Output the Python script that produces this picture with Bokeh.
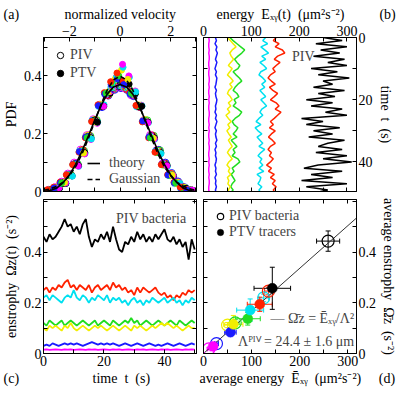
from bokeh.plotting import figure
from bokeh.layouts import gridplot
from bokeh.models import (Range1d, FixedTicker, CustomJSTickFormatter, LinearAxis,
                          Legend, LegendItem, Label, Whisker, TeeHead, ColumnDataSource)
from bokeh.embed import file_html
from bokeh.resources import INLINE

# ---------------- data ----------------
series_names = ["magenta", "blue", "yellow", "green", "cyan", "red", "black"]
series_colors = ["#ff00ff", "#1a1aff", "#f2ee00", "#22dd22", "#00e0f0", "#ff2200", "#000000"]

# (a) velocity PDFs (each data set has its own bin centres)
vel_bins = [-2.75, -2.5, -2.25, -2.0, -1.75, -1.5, -1.25, -1.0, -0.75, -0.5, -0.25, 0.0,
            0.25, 0.5, 0.75, 1.0, 1.25, 1.5, 1.75, 2.0, 2.25, 2.5, 2.75]
piv_bin_shift = [-0.06, 0.04, -0.02, 0.08, -0.09, 0.02, 0.0]
ptv_bin_shift = [0.10, -0.10, 0.06, -0.05, 0.12, -0.12, 0.11]
piv_magenta = [0.006,0.015,0.034,0.062,0.100,0.145,0.195,0.250,0.300,0.335,0.355,0.360,0.356,0.333,0.296,0.247,0.196,0.143,0.098,0.060,0.033,0.014,0.006]
piv_blue    = [0.004,0.012,0.031,0.058,0.096,0.142,0.190,0.243,0.292,0.332,0.352,0.358,0.351,0.330,0.292,0.242,0.191,0.144,0.100,0.064,0.035,0.015,0.005]
piv_yellow  = [0.003,0.010,0.028,0.055,0.093,0.140,0.193,0.248,0.300,0.340,0.363,0.371,0.362,0.339,0.298,0.248,0.194,0.141,0.093,0.056,0.029,0.011,0.003]
piv_green   = [0.004,0.011,0.029,0.056,0.095,0.141,0.192,0.247,0.298,0.338,0.360,0.366,0.360,0.337,0.297,0.246,0.193,0.142,0.095,0.057,0.030,0.012,0.004]
piv_cyan    = [0.003,0.011,0.029,0.057,0.094,0.139,0.190,0.245,0.296,0.337,0.361,0.368,0.361,0.336,0.295,0.244,0.190,0.139,0.094,0.057,0.029,0.011,0.003]
piv_red     = [0.005,0.014,0.033,0.060,0.098,0.144,0.194,0.246,0.294,0.333,0.354,0.360,0.354,0.332,0.293,0.245,0.194,0.144,0.098,0.061,0.033,0.014,0.005]
piv_black   = [0.004,0.012,0.030,0.057,0.095,0.141,0.192,0.246,0.296,0.336,0.358,0.364,0.358,0.335,0.295,0.245,0.192,0.141,0.095,0.057,0.030,0.012,0.004]

ptv_magenta = [0.005,0.013,0.029,0.054,0.088,0.130,0.180,0.236,0.295,0.345,0.395,0.440,0.400,0.348,0.298,0.238,0.182,0.131,0.089,0.055,0.030,0.013,0.005]
ptv_blue    = [0.004,0.012,0.030,0.057,0.094,0.138,0.188,0.244,0.297,0.338,0.370,0.390,0.370,0.338,0.297,0.244,0.188,0.138,0.094,0.057,0.030,0.012,0.004]
ptv_yellow  = [0.005,0.014,0.031,0.056,0.090,0.133,0.184,0.240,0.298,0.346,0.390,0.420,0.388,0.344,0.296,0.240,0.184,0.133,0.090,0.056,0.031,0.014,0.005]
ptv_green   = [0.005,0.013,0.030,0.056,0.092,0.135,0.186,0.243,0.298,0.340,0.375,0.400,0.376,0.340,0.297,0.243,0.186,0.135,0.092,0.056,0.030,0.013,0.005]
ptv_cyan    = [0.004,0.012,0.028,0.053,0.087,0.131,0.182,0.240,0.300,0.350,0.398,0.430,0.395,0.345,0.296,0.238,0.181,0.131,0.087,0.053,0.028,0.012,0.004]
ptv_red     = [0.006,0.015,0.032,0.058,0.093,0.136,0.186,0.242,0.300,0.342,0.380,0.410,0.382,0.343,0.298,0.241,0.186,0.136,0.093,0.058,0.032,0.015,0.006]
ptv_black   = [0.004,0.011,0.028,0.054,0.090,0.134,0.185,0.240,0.295,0.340,0.372,0.382,0.372,0.340,0.295,0.240,0.185,0.134,0.090,0.054,0.028,0.011,0.004]

curve_v = [-3.0, -2.75, -2.5, -2.25, -2.0, -1.75, -1.5, -1.25, -1.0, -0.75, -0.5, -0.25, 0.0,
           0.25, 0.5, 0.75, 1.0, 1.25, 1.5, 1.75, 2.0, 2.25, 2.5, 2.75, 3.0]
curve_theory = [0.0,0.003,0.012,0.030,0.057,0.094,0.140,0.192,0.246,0.297,0.338,0.362,0.370,
                0.362,0.338,0.297,0.246,0.192,0.140,0.094,0.057,0.030,0.012,0.003,0.0]
curve_gauss = [0.004,0.009,0.018,0.032,0.054,0.086,0.130,0.183,0.242,0.301,0.352,0.387,0.399,
               0.387,0.352,0.301,0.242,0.183,0.130,0.086,0.054,0.032,0.018,0.009,0.004]

# (b) PIV energy time series, one sample per second
time_s = list(range(0, 51))
en_magenta = [11,12,11,11,12,11,12,12,11,11,12,11,11,12,12,11,12,11,11,12,11,12,11,11,12,12,11,11,12,11,12,11,11,12,11,12,12,11,11,12,11,12,11,11,12,11,12,12,11,11,12]
en_blue    = [25,27,24,28,26,29,27,25,28,26,24,27,25,28,27,26,24,27,25,26,28,27,25,26,24,27,25,28,26,24,27,25,26,28,25,27,24,26,25,27,26,24,26,25,27,24,26,25,27,25,26]
en_yellow  = [50,56,62,68,60,55,58,63,57,52,60,55,50,57,62,55,60,53,50,56,60,52,57,50,55,47,52,58,51,55,49,53,58,52,56,60,54,50,55,60,53,49,55,52,57,50,53,51,56,52,54]
en_green   = [55,62,70,78,86,80,72,65,70,76,72,62,68,75,80,72,66,62,70,74,64,68,62,72,80,75,66,60,64,72,68,62,70,58,64,70,62,66,60,72,76,68,60,64,58,62,66,60,57,62,56]
en_cyan    = [130,124,134,120,128,136,122,130,118,126,132,120,116,124,130,122,128,118,124,130,120,126,132,122,118,124,116,110,120,108,114,122,112,118,124,116,128,120,114,122,118,124,116,126,112,120,118,114,122,116,120]
en_red     = [152,146,158,150,165,170,155,148,160,152,145,150,140,135,142,150,138,145,155,148,140,152,158,150,162,155,148,140,146,138,150,142,136,144,150,140,135,142,138,146,140,132,142,136,148,140,150,144,152,146,150]
en_black   = [250,290,235,300,245,285,230,295,260,300,225,280,240,305,250,270,230,295,240,275,215,270,225,290,255,300,205,250,215,285,230,270,220,295,260,240,290,235,300,250,310,240,210,290,225,270,205,300,215,260,230]

# (c) PIV enstrophy time series
ens_magenta = [0.015,0.016,0.014,0.015,0.016,0.015,0.014,0.016,0.015,0.016,0.014,0.015,0.016,0.015,0.014,0.016,0.015,0.016,0.014,0.015,0.016,0.015,0.014,0.016,0.015,0.016,0.014,0.015,0.016,0.015,0.014,0.016,0.015,0.016,0.014,0.015,0.016,0.015,0.014,0.016,0.015,0.016,0.014,0.015,0.016,0.015,0.014,0.016,0.015,0.016,0.015]
ens_blue    = [0.030,0.035,0.030,0.040,0.035,0.030,0.035,0.040,0.035,0.040,0.035,0.040,0.035,0.030,0.035,0.040,0.045,0.040,0.035,0.040,0.035,0.040,0.035,0.040,0.035,0.030,0.035,0.040,0.035,0.030,0.035,0.040,0.035,0.030,0.035,0.040,0.035,0.030,0.035,0.030,0.035,0.040,0.035,0.030,0.035,0.040,0.035,0.030,0.035,0.040,0.035]
ens_yellow  = [0.10,0.09,0.11,0.10,0.11,0.10,0.09,0.11,0.10,0.12,0.10,0.09,0.10,0.11,0.10,0.09,0.10,0.11,0.10,0.11,0.10,0.09,0.10,0.11,0.10,0.09,0.10,0.11,0.10,0.09,0.11,0.10,0.11,0.10,0.09,0.10,0.11,0.10,0.11,0.12,0.11,0.12,0.11,0.10,0.11,0.10,0.09,0.10,0.11,0.10,0.10]
ens_green   = [0.12,0.11,0.13,0.12,0.11,0.12,0.13,0.11,0.12,0.13,0.12,0.11,0.12,0.13,0.12,0.11,0.12,0.13,0.11,0.12,0.13,0.12,0.11,0.13,0.12,0.11,0.12,0.13,0.12,0.14,0.12,0.13,0.11,0.12,0.13,0.12,0.11,0.12,0.13,0.12,0.11,0.12,0.13,0.12,0.11,0.13,0.12,0.11,0.12,0.13,0.12]
ens_cyan    = [0.22,0.23,0.21,0.23,0.22,0.21,0.20,0.22,0.23,0.22,0.25,0.22,0.21,0.23,0.22,0.20,0.22,0.21,0.23,0.22,0.21,0.23,0.20,0.22,0.21,0.22,0.20,0.21,0.19,0.21,0.22,0.20,0.21,0.19,0.21,0.20,0.22,0.21,0.20,0.21,0.22,0.20,0.21,0.22,0.20,0.21,0.19,0.21,0.20,0.22,0.21]
ens_red     = [0.25,0.26,0.24,0.26,0.25,0.27,0.26,0.28,0.29,0.26,0.27,0.25,0.27,0.26,0.25,0.27,0.24,0.26,0.27,0.25,0.26,0.27,0.25,0.28,0.26,0.27,0.25,0.26,0.24,0.25,0.23,0.26,0.24,0.26,0.25,0.24,0.25,0.26,0.24,0.23,0.24,0.22,0.23,0.21,0.23,0.22,0.24,0.23,0.25,0.24,0.25]
ens_black   = [0.46,0.44,0.47,0.45,0.46,0.48,0.50,0.53,0.50,0.51,0.48,0.50,0.47,0.51,0.53,0.46,0.42,0.45,0.44,0.47,0.45,0.48,0.44,0.50,0.45,0.41,0.40,0.44,0.43,0.46,0.44,0.48,0.45,0.47,0.44,0.46,0.44,0.47,0.45,0.47,0.49,0.45,0.44,0.46,0.43,0.45,0.42,0.44,0.37,0.45,0.41]

# (d) averages with error bars (order: magenta, blue, yellow, green, cyan, red, black)
avg_E_piv   = [11, 27, 50, 66, 125, 135, 259]
avg_Om_piv  = [0.018, 0.039, 0.112, 0.121, 0.219, 0.246, 0.443]
err_E_piv   = [3, 4, 6, 8, 10, 8, 24]
err_Om_piv  = [0.004, 0.006, 0.010, 0.012, 0.015, 0.015, 0.040]
avg_E_ptv   = [20, 56, 62, 92, 97, 117, 143]
avg_Om_ptv  = [0.028, 0.084, 0.115, 0.137, 0.171, 0.194, 0.257]
err_E_ptv   = [5, 12, 20, 26, 28, 26, 38]
err_Om_ptv  = [0.008, 0.015, 0.035, 0.025, 0.044, 0.028, 0.083]
fit_Lambda = 24.4
fit_E = [0, 340]

# ---------------- layout ----------------
FONT = "Liberation Serif"
FS = "14px"
NB = "\u00a0"
FW, FH = 156, 154
TOP, BOT = 37, 37
WL, WR = 40 + FW + 3, 4 + FW + 40
HT, HB = TOP + FH + 7, 1 + FH + BOT

xr_a, yr_a = (-3.02, 3.02), (0.0, 0.533)
xr_b, yr_b = (0.0, 320.0), (49.5, 0.0)
xr_c, yr_c = (0.0, 50.6), (0.0, 0.607)
xr_d, yr_d = (0.0, 318.0), (0.0, 0.607)


def make_fig(w, h, xr, yr, xloc, yloc, mb):
    p = figure(width=w, height=h, x_range=Range1d(*xr), y_range=Range1d(*yr),
               x_axis_location=xloc, y_axis_location=yloc, toolbar_location=None,
               output_backend="svg", min_border_left=mb[0], min_border_right=mb[1],
               min_border_top=mb[2], min_border_bottom=mb[3])
    p.xgrid.visible = False
    p.ygrid.visible = False
    p.outline_line_color = "black"
    p.outline_line_alpha = 1.0
    p.background_fill_color = "white"
    p.border_fill_color = "white"
    return p


def set_title(p, text, loc, offset):
    p.title_location = loc
    p.title.text = text
    p.title.align = "left"
    p.title.offset = offset
    p.title.standoff = 1
    p.title.text_font = FONT
    p.title.text_font_size = FS
    p.title.text_font_style = "normal"
    p.title.text_color = "black"


def style_axis(ax, ticks, code, label):
    ax.ticker = FixedTicker(ticks=ticks, minor_ticks=[])
    ax.formatter = CustomJSTickFormatter(code=code)
    ax.major_tick_in = 4
    ax.major_tick_out = 0
    ax.minor_tick_in = 0
    ax.minor_tick_out = 0
    ax.major_label_standoff = 2
    ax.axis_label = label
    ax.axis_label_standoff = 2
    ax.axis_label_text_font = FONT
    ax.axis_label_text_font_size = FS
    ax.axis_label_text_font_style = "normal"
    ax.axis_label_text_color = "black"
    ax.major_label_text_font = FONT
    ax.major_label_text_font_size = FS
    ax.major_label_text_color = "black"
    ax.axis_line_color = "black"
    ax.major_tick_line_color = "black"


def mirror(p, side, ticks):
    ax = LinearAxis(ticker=FixedTicker(ticks=ticks, minor_ticks=[]),
                    formatter=CustomJSTickFormatter(code='return "";'),
                    major_tick_in=4, major_tick_out=0, minor_tick_in=0, minor_tick_out=0,
                    major_label_standoff=0, major_label_text_font_size="1px",
                    axis_line_color="black", major_tick_line_color="black")
    p.add_layout(ax, side)


VEL_CODE = 'return (tick % 2 === 0) ? (tick < 0 ? "\\u2212" + (-tick) : String(tick)) : "";'
E_CODE = 'return (tick % 100 === 0) ? String(tick) : "";'
T_CODE = 'return (tick % 20 === 0) ? String(tick) : "";'
P_CODE = 'const k = Math.round(tick * 10); return (k % 2 === 0 && k <= 4) ? (k === 0 ? "0" : (k / 10).toFixed(1)) : "";'

vel_ticks = [-3, -2, -1, 0, 1, 2, 3]
pdf_ticks = [0.0, 0.1, 0.2, 0.3, 0.4, 0.5]
en_ticks = [0, 50, 100, 150, 200, 250, 300]
t_ticks = [0, 10, 20, 30, 40, 50]
om_ticks = [0.0, 0.1, 0.2, 0.3, 0.4, 0.5, 0.6]

# ---------------- (a) ----------------
pa = make_fig(WL, HT, xr_a, yr_a, "above", "left", (40, 3, TOP, 7))
set_title(pa, "(a)" + NB * 13 + "normalized velocity", "above", -40)
style_axis(pa.above[0], vel_ticks, VEL_CODE, None)
style_axis(pa.left[0], pdf_ticks, P_CODE, "PDF")
mirror(pa, "below", vel_ticks)
mirror(pa, "right", pdf_ticks)

piv_sets = [piv_magenta, piv_blue, piv_yellow, piv_green, piv_cyan, piv_red, piv_black]
ptv_sets = [ptv_magenta, ptv_blue, ptv_yellow, ptv_green, ptv_cyan, ptv_red, ptv_black]

# all PDF points in one renderer; the drawing order rotates through the colours bin by bin
pts = []
for i in range(7):
    for j, (b, val) in enumerate(zip(vel_bins, piv_sets[i])):
        pts.append((b + piv_bin_shift[i], val, series_colors[i], 0.0, 7.0, "PIV", i,
                    (j, 0, (i + 3 * j) % 7)))
    for j, (b, val) in enumerate(zip(vel_bins, ptv_sets[i])):
        pts.append((b + ptv_bin_shift[i], val, series_colors[i], 1.0, 6.0, "PTV", i,
                    (j, 1, (i + 5 * j) % 7)))
pts.sort(key=lambda r: r[7])
src_a = ColumnDataSource(dict(v=[r[0] for r in pts], pdf=[r[1] for r in pts],
                              c=[r[2] for r in pts], fa=[r[3] for r in pts],
                              s=[r[4] for r in pts]))
r_pts = pa.scatter("v", "pdf", source=src_a, marker="circle", size="s",
                   fill_color="c", fill_alpha="fa", line_color="c", line_width=1)
idx_piv_black = next(k for k, r in enumerate(pts) if r[5] == "PIV" and r[6] == 6)
idx_ptv_black = next(k for k, r in enumerate(pts) if r[5] == "PTV" and r[6] == 6)

r_theory = pa.line(curve_v, curve_theory, line_color="black", line_width=1.6)
r_gauss = pa.line(curve_v, curve_gauss, line_color="black", line_width=1.6, line_dash="5 3")

leg_a1 = Legend(items=[LegendItem(label="PIV", renderers=[r_pts], index=idx_piv_black),
                       LegendItem(label="PTV", renderers=[r_pts], index=idx_ptv_black)],
                location="top_left", margin=8, padding=1, spacing=0,
                glyph_width=16, glyph_height=18, label_height=18, label_standoff=2,
                background_fill_alpha=0, border_line_alpha=0,
                label_text_font=FONT, label_text_font_size=FS)
leg_a2 = Legend(items=[LegendItem(label="theory", renderers=[r_theory]),
                       LegendItem(label="Gaussian", renderers=[r_gauss])],
                location=(43, 3), margin=0, padding=1, spacing=0,
                glyph_width=13, glyph_height=16, label_height=16, label_standoff=9,
                background_fill_alpha=0, border_line_alpha=0,
                label_text_font=FONT, label_text_font_size=FS)
pa.add_layout(leg_a1)
pa.add_layout(leg_a2)

# ---------------- (b) ----------------
pb = make_fig(WR, HT, xr_b, yr_b, "above", "right", (4, 40, TOP, 7))
set_title(pb, "energy " + NB + "E\u2093\u1d67(t) " + NB + "(\u03bcm\u00b2s\u207b\u00b2)" + NB * 10 + "(b)",
          "above", 13)
style_axis(pb.above[0], en_ticks, E_CODE, None)
style_axis(pb.right[0], t_ticks, T_CODE, "time " + NB + "t " + NB + "(s)")
mirror(pb, "below", en_ticks)
mirror(pb, "left", t_ticks)

en_sets = [en_magenta, en_blue, en_yellow, en_green, en_cyan, en_red, en_black]
draw_order = [6, 5, 4, 3, 2, 1, 0]
for i in draw_order:
    pb.line(en_sets[i], time_s, line_color=series_colors[i], line_width=1.5)
pb.add_layout(Label(x=185, y=6.1, text="PIV", text_font=FONT, text_font_size=FS,
                    text_align="left", text_baseline="middle"))

# ---------------- (c) ----------------
pc = make_fig(WL, HB, xr_c, yr_c, "below", "left", (40, 3, 1, BOT))
set_title(pc, "(c)" + NB * 21 + "time " + NB + "t " + NB + "(s)", "below", -40)
style_axis(pc.below[0], t_ticks, T_CODE, None)
style_axis(pc.left[0], om_ticks, P_CODE, "enstrophy " + NB + "\u03a9z(t) " + NB + "(s\u207b\u00b2)")
mirror(pc, "above", t_ticks)
mirror(pc, "right", om_ticks)

ens_sets = [ens_magenta, ens_blue, ens_yellow, ens_green, ens_cyan, ens_red, ens_black]
for i in draw_order:
    pc.line(time_s, ens_sets[i], line_color=series_colors[i], line_width=1.8)
pc.add_layout(Label(x=24, y=0.532, text="PIV bacteria", text_font=FONT, text_font_size=FS,
                    text_align="left", text_baseline="middle"))

# ---------------- (d) ----------------
pd_ = make_fig(WR, HB, xr_d, yr_d, "below", "right", (4, 40, 1, BOT))
set_title(pd_, "average energy " + NB + "\u0112\u2093\u1d67 " + NB + "(\u03bcm\u00b2s\u207b\u00b2)" + NB * 5 + "(d)",
          "below", -4)
style_axis(pd_.below[0], en_ticks, E_CODE, None)
style_axis(pd_.right[0], om_ticks, P_CODE, "average enstrophy " + NB + "\u03a9\u0304z " + NB + "(s\u207b\u00b2)")
mirror(pd_, "above", en_ticks)
mirror(pd_, "left", om_ticks)

fit_Om = [e / fit_Lambda ** 2 for e in fit_E]
pd_.line(fit_E, fit_Om, line_color="#333333", line_width=1)


def add_whiskers(p, E, Om, eE, eOm, col):
    src = ColumnDataSource(dict(E=[E], Om=[Om], El=[E - eE], Eu=[E + eE],
                                Ol=[Om - eOm], Ou=[Om + eOm]))
    p.add_layout(Whisker(source=src, base="Om", lower="El", upper="Eu", dimension="width",
                         line_color=col, line_width=1,
                         lower_head=TeeHead(size=5, line_color=col, line_width=1),
                         upper_head=TeeHead(size=5, line_color=col, line_width=1)))
    p.add_layout(Whisker(source=src, base="E", lower="Ol", upper="Ou", dimension="height",
                         line_color=col, line_width=1,
                         lower_head=TeeHead(size=5, line_color=col, line_width=1),
                         upper_head=TeeHead(size=5, line_color=col, line_width=1)))


for i, col in enumerate(series_colors):
    add_whiskers(pd_, avg_E_piv[i], avg_Om_piv[i], err_E_piv[i], err_Om_piv[i], col)
    add_whiskers(pd_, avg_E_ptv[i], avg_Om_ptv[i], err_E_ptv[i], err_Om_ptv[i], col)

src_piv = ColumnDataSource(dict(E=avg_E_piv, Om=avg_Om_piv, c=series_colors))
src_ptv = ColumnDataSource(dict(E=avg_E_ptv, Om=avg_Om_ptv, c=series_colors))
r_dpiv = pd_.scatter("E", "Om", source=src_piv, marker="circle", size=12,
                     fill_color=None, line_color="c", line_width=1.2)
r_dptv = pd_.scatter("E", "Om", source=src_ptv, marker="circle", size=10,
                     fill_color="c", line_color="c", line_width=0.5)

leg_d = Legend(items=[LegendItem(label="PIV bacteria", renderers=[r_dpiv], index=6),
                      LegendItem(label="PTV tracers", renderers=[r_dptv], index=6)],
               location="top_left", margin=8, padding=1, spacing=0,
               glyph_width=16, glyph_height=16, label_height=16, label_standoff=1,
               background_fill_alpha=0, border_line_alpha=0,
               label_text_font=FONT, label_text_font_size=FS)
pd_.add_layout(leg_d)
pd_.add_layout(Label(x=313, y=0.136, text="\u2014 \u03a9\u0304z = \u0112\u2093\u1d67/\u039b\u00b2",
                     text_font=FONT, text_font_size=FS, text_align="right", text_baseline="middle"))
pd_.add_layout(Label(x=313, y=0.049, text="\u039b\u1d3e\u1d35\u2c7d = 24.4 \u00b1 1.6 \u03bcm",
                     text_font=FONT, text_font_size=FS, text_align="right", text_baseline="middle"))

grid = gridplot([[pa, pb], [pc, pd_]], toolbar_location=None)

open("out.html", "w").write(file_html(grid, INLINE))
